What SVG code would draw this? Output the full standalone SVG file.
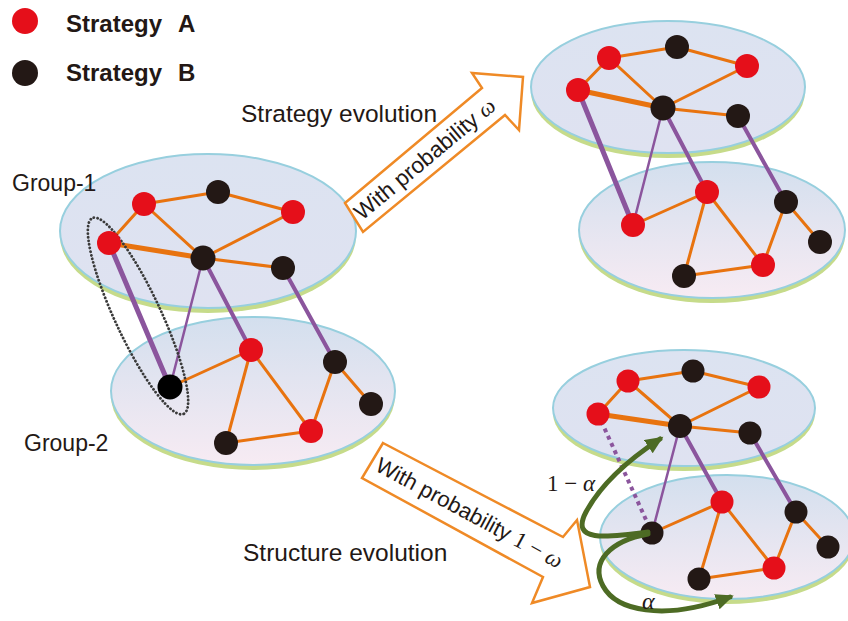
<svg xmlns="http://www.w3.org/2000/svg" width="848" height="621" viewBox="0 0 848 621">
<style>
.t{font-family:"Liberation Sans",Arial,sans-serif;fill:#231815}
.lg{font-family:"Liberation Sans",Arial,sans-serif;font-weight:bold;font-size:24px;fill:#231815}
.m{font-family:"Liberation Serif","DejaVu Serif",serif;fill:#231815}
.it{font-style:italic}
.pl{fill:url(#gu);stroke:#97cfde;stroke-width:2}
.pl2{fill:url(#gl);stroke:#97cfde;stroke-width:2}
.sh{fill:#c6db8a}
.o{stroke:#e8730f;stroke-width:3;fill:none;stroke-linecap:round}
.ot{stroke:#e8730f;stroke-width:5;fill:none;stroke-linecap:round}
.p{stroke:#8b559d;stroke-width:4;fill:none;stroke-linecap:round}
.pt{stroke:#8b559d;stroke-width:5;fill:none;stroke-linecap:round}
.pn{stroke:#8b559d;stroke-width:2.5;fill:none;stroke-linecap:round}
.pd{stroke:#8b559d;stroke-width:4;fill:none;stroke-dasharray:4 4}
.r{fill:#e50f1a}
.b{fill:#231815}
.arr{fill:#fff;stroke:#ef8a26;stroke-width:2.5;stroke-linejoin:miter}
.g{stroke:#4d6b24;stroke-width:5;fill:none;stroke-linecap:round}
</style>
<defs>
<linearGradient id="gu" x1="0" y1="0" x2="0" y2="1">
<stop offset="0" stop-color="#dce3f1"/><stop offset="1" stop-color="#dfe2f1"/>
</linearGradient>
<linearGradient id="gl" x1="0" y1="0" x2="0" y2="1">
<stop offset="0" stop-color="#d3dfee"/><stop offset="1" stop-color="#f7ebf3"/>
</linearGradient>
<marker id="ga" markerUnits="userSpaceOnUse" markerWidth="20" markerHeight="18" refX="14" refY="8" orient="auto">
<path d="M0,0 L18,8 L0,16 Z" fill="#4d6b24"/>
</marker>
</defs>

<!-- legend -->
<g id="legend-a"><circle cx="25" cy="21" r="13" class="r"/><text class="lg" x="66" y="32">Strategy<tspan x="178">A</tspan></text></g>
<g id="legend-b"><circle cx="25" cy="73" r="13" class="b"/><text class="lg" x="66" y="81">Strategy<tspan x="178">B</tspan></text></g>

<!-- planes -->
<g id="planes">
<ellipse class="sh" cx="208" cy="236" rx="148" ry="77"/>
<ellipse class="pl" cx="208" cy="231" rx="148" ry="77"/>
<ellipse class="sh" cx="253" cy="396" rx="142" ry="74"/>
<ellipse class="pl2" cx="253" cy="391" rx="142" ry="74"/>
<ellipse class="sh" cx="668" cy="92" rx="137" ry="66"/>
<ellipse class="pl" cx="668" cy="87" rx="137" ry="66"/>
<ellipse class="sh" cx="712" cy="235" rx="133" ry="68"/>
<ellipse class="pl2" cx="712" cy="230" rx="133" ry="68"/>
<ellipse class="sh" cx="684" cy="413" rx="131" ry="58"/>
<ellipse class="pl" cx="684" cy="408" rx="131" ry="58"/>
<ellipse class="sh" cx="727" cy="542" rx="127" ry="62"/>
<ellipse class="pl2" cx="727" cy="537" rx="127" ry="62"/>
</g>

<!-- texts -->
<text class="t" x="12" y="191" font-size="23">Group-1</text>
<text class="t" x="24" y="451" font-size="23">Group-2</text>
<text class="t" x="241" y="122" font-size="24.5">Strategy evolution</text>
<text class="t" x="243" y="561" font-size="24.5">Structure evolution</text>

<!-- transition arrows -->
<g id="arrow-strategy">
<polygon class="arr" points="345,203 482,88 472,73 523,77 519,130 505,115 363,232"/>
<text class="t" font-size="22.5" transform="translate(362,221) rotate(-39.8)">With probability <tspan class="m it">ω</tspan></text>
</g>
<g id="arrow-structure">
<polygon class="arr" points="383,443 563,537 577,520 590,587 532,603 543,577 362,478"/>
<text class="t" font-size="22" transform="translate(374,470) rotate(28.3)">With probability <tspan class="m" font-size="23">1 − <tspan class="it">ω</tspan></tspan></text>
</g>

<!-- connectors -->
<g id="connectors">
<!-- left -->
<line class="o" x1="144" y1="204" x2="218" y2="192"/>
<line class="o" x1="218" y1="192" x2="293" y2="212"/>
<line class="o" x1="144" y1="204" x2="109" y2="243"/>
<line class="ot" x1="109" y1="243" x2="203" y2="258"/>
<line class="o" x1="144" y1="204" x2="203" y2="258"/>
<line class="o" x1="293" y1="212" x2="203" y2="258"/>
<line class="o" x1="203" y1="258" x2="283" y2="268"/>
<line class="pt" x1="109" y1="243" x2="170" y2="387"/>
<line class="pn" x1="203" y1="258" x2="170" y2="387"/>
<line class="p" x1="203" y1="258" x2="251" y2="350"/>
<line class="p" x1="283" y1="268" x2="335" y2="362"/>
<line class="o" x1="170" y1="387" x2="251" y2="350"/>
<line class="o" x1="251" y1="350" x2="226" y2="443"/>
<line class="o" x1="251" y1="350" x2="311" y2="431"/>
<line class="o" x1="226" y1="443" x2="311" y2="431"/>
<line class="o" x1="311" y1="431" x2="335" y2="362"/>
<line class="o" x1="335" y1="362" x2="371" y2="404"/>
<ellipse cx="138" cy="316" rx="108" ry="23" transform="rotate(65 138 316)" fill="none" stroke="#3a3a3a" stroke-width="2.8" stroke-dasharray="0.1 3.6" stroke-linecap="round"/>
<!-- top right -->
<line class="o" x1="609" y1="58" x2="677" y2="47"/>
<line class="o" x1="677" y1="47" x2="747" y2="66"/>
<line class="o" x1="609" y1="58" x2="578" y2="90"/>
<line class="ot" x1="578" y1="90" x2="663" y2="108"/>
<line class="o" x1="609" y1="58" x2="663" y2="108"/>
<line class="o" x1="747" y1="66" x2="663" y2="108"/>
<line class="o" x1="663" y1="108" x2="738" y2="116"/>
<line class="pt" x1="578" y1="90" x2="633" y2="225"/>
<line class="pn" x1="663" y1="108" x2="633" y2="225"/>
<line class="p" x1="663" y1="108" x2="707" y2="192"/>
<line class="p" x1="738" y1="116" x2="786" y2="202"/>
<line class="o" x1="633" y1="225" x2="707" y2="192"/>
<line class="o" x1="707" y1="192" x2="684" y2="276"/>
<line class="o" x1="707" y1="192" x2="763" y2="265"/>
<line class="o" x1="684" y1="276" x2="763" y2="265"/>
<line class="o" x1="763" y1="265" x2="786" y2="202"/>
<line class="o" x1="786" y1="202" x2="820" y2="242"/>
<!-- bottom right -->
<line class="o" x1="628" y1="381" x2="693" y2="371"/>
<line class="o" x1="693" y1="371" x2="759" y2="387"/>
<line class="o" x1="628" y1="381" x2="598" y2="414"/>
<line class="ot" x1="598" y1="414" x2="680" y2="426"/>
<line class="o" x1="628" y1="381" x2="680" y2="426"/>
<line class="o" x1="759" y1="387" x2="680" y2="426"/>
<line class="o" x1="680" y1="426" x2="750" y2="433"/>
<line class="pd" x1="598" y1="414" x2="652" y2="533"/>
<line class="pn" x1="680" y1="426" x2="652" y2="533"/>
<line class="p" x1="680" y1="426" x2="722" y2="502"/>
<line class="p" x1="750" y1="433" x2="796" y2="512"/>
<line class="o" x1="652" y1="533" x2="722" y2="502"/>
<line class="o" x1="722" y1="502" x2="699" y2="579"/>
<line class="o" x1="722" y1="502" x2="774" y2="568"/>
<line class="o" x1="699" y1="579" x2="774" y2="568"/>
<line class="o" x1="774" y1="568" x2="796" y2="512"/>
<line class="o" x1="796" y1="512" x2="828" y2="547"/>
</g>

<!-- nodes left -->
<g id="n-l1"><circle cx="144" cy="204" r="12" class="r"/></g>
<g id="n-l2"><circle cx="218" cy="192" r="12" class="b"/></g>
<g id="n-l3"><circle cx="293" cy="212" r="12" class="r"/></g>
<g id="n-l4"><circle cx="109" cy="243" r="12" class="r"/></g>
<g id="n-l5"><circle cx="203" cy="258" r="12.5" class="b"/></g>
<g id="n-l6"><circle cx="283" cy="268" r="12" class="b"/></g>
<g id="n-l7"><circle cx="170" cy="387" r="12.5" fill="#000"/></g>
<g id="n-l8"><circle cx="251" cy="350" r="12" class="r"/></g>
<g id="n-l9"><circle cx="335" cy="362" r="12" class="b"/></g>
<g id="n-l10"><circle cx="371" cy="404" r="12" class="b"/></g>
<g id="n-l11"><circle cx="226" cy="443" r="12" class="b"/></g>
<g id="n-l12"><circle cx="311" cy="431" r="12" class="r"/></g>
<!-- nodes top right -->
<g id="n-t1"><circle cx="609" cy="58" r="12" class="r"/></g>
<g id="n-t2"><circle cx="677" cy="47" r="12" class="b"/></g>
<g id="n-t3"><circle cx="747" cy="66" r="12" class="r"/></g>
<g id="n-t4"><circle cx="578" cy="90" r="12" class="r"/></g>
<g id="n-t5"><circle cx="663" cy="108" r="12.5" class="b"/></g>
<g id="n-t6"><circle cx="738" cy="116" r="12" class="b"/></g>
<g id="n-t7"><circle cx="633" cy="225" r="12" class="r"/></g>
<g id="n-t8"><circle cx="707" cy="192" r="12" class="r"/></g>
<g id="n-t9"><circle cx="786" cy="202" r="12" class="b"/></g>
<g id="n-t10"><circle cx="820" cy="242" r="12" class="b"/></g>
<g id="n-t11"><circle cx="684" cy="276" r="12" class="b"/></g>
<g id="n-t12"><circle cx="763" cy="265" r="12" class="r"/></g>
<!-- nodes bottom right -->
<g id="n-b1"><circle cx="628" cy="381" r="11.5" class="r"/></g>
<g id="n-b2"><circle cx="693" cy="371" r="11.5" class="b"/></g>
<g id="n-b3"><circle cx="759" cy="387" r="11.5" class="r"/></g>
<g id="n-b4"><circle cx="598" cy="414" r="11.5" class="r"/></g>
<g id="n-b5"><circle cx="680" cy="426" r="12" class="b"/></g>
<g id="n-b6"><circle cx="750" cy="433" r="11.5" class="b"/></g>
<g id="n-b7"><circle cx="652" cy="533" r="11.5" class="b"/></g>
<g id="n-b8"><circle cx="722" cy="502" r="11.5" class="r"/></g>
<g id="n-b9"><circle cx="796" cy="512" r="11.5" class="b"/></g>
<g id="n-b10"><circle cx="828" cy="547" r="11.5" class="b"/></g>
<g id="n-b11"><circle cx="699" cy="579" r="11.5" class="b"/></g>
<g id="n-b12"><circle cx="774" cy="568" r="11.5" class="r"/></g>

<!-- green rewiring arrows -->
<g id="rewire">
<path class="g" d="M648,532 C605,538 570,542 586,512 C600,486 628,460 660,439" marker-end="url(#ga)"/>
<path class="g" d="M648,534 C610,541 590,562 603,586 C616,610 662,622 730,597" marker-end="url(#ga)"/>
<text class="m" x="547" y="491" font-size="23">1 − <tspan class="it">α</tspan></text>
<text class="m it" x="642" y="609" font-size="24">α</text>
</g>
</svg>
